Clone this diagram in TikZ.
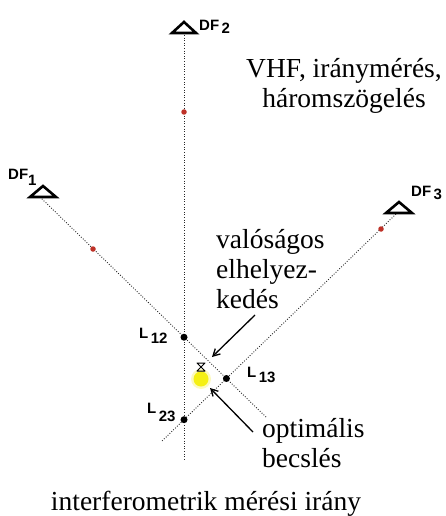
\documentclass[tikz,border=0pt]{standalone}
\usepackage{fontspec}
\setmainfont{Liberation Serif}
\setsansfont{Liberation Sans}
\usetikzlibrary{arrows.meta,positioning,calc}
\definecolor{dfink}{RGB}{40,40,40}
\definecolor{dfred}{RGB}{190,50,40}
\definecolor{dfyel}{RGB}{245,240,20}
\definecolor{dfglow}{RGB}{252,250,190}
\tikzset{
  bearing/.style={draw=dfink, line width=0.9pt, dash pattern=on 0.9pt off 1.7pt},
  station/.style={draw=black, fill=white, line width=2.6pt, line join=miter},
  fix/.style={circle, fill=black, inner sep=0pt, minimum size=7pt},
  mid/.style={circle, fill=dfred, inner sep=0pt, minimum size=5.5pt},
  dflab/.style={font=\fontsize{15}{15}\selectfont\sffamily\bfseries, inner sep=0pt, anchor=base west},
  note/.style={font=\fontsize{27.5}{30}\selectfont, inner sep=0pt},
  arr/.style={-{Straight Barb[length=2.4mm,width=2.6mm]}, draw=black, line width=1.3pt},
  every picture/.append style={line join=round}
}

\begin{document}
\begin{tikzpicture}[x=1pt, y=-1pt]
  \useasboundingbox (0,0) rectangle (446,516);
  % bearing lines
  \coordinate (df1) at (40,197);
  \coordinate (df2) at (184,35);
  \coordinate (df3) at (396,214);
  \coordinate (end1) at (267,418);
  \coordinate (end2) at (184,460);
  \coordinate (end3) at (162,441);
  \draw[bearing] (df1) -- (end1);
  \draw[bearing] (df2) -- (end2);
  \draw[bearing] (df3) -- (end3);
  % stations
  \draw[station] (30,197) -- (43,186) -- (56,197) -- cycle;
  \draw[station] (172,33) -- (184,22) -- (196,33) -- cycle;
  \draw[station] (386,213) -- (399,202) -- (412,213) -- cycle;
  \node[dflab] (df1lab) at (8,179) {DF\raisebox{-6pt}{1}};
  \node[dflab] (df2lab) at (199,31) {DF\,\raisebox{-3pt}{2}};
  \node[dflab] (df3lab) at (411,196) {DF\,\raisebox{-3pt}{3}};
  % midpoints
  \node[mid] (m1) at (93,249) {};
  \node[mid] (m2) at (184,112) {};
  \node[mid] (m3) at (381,229) {};
  % crossings
  \node[fix] (l12) at (intersection of df1--end1 and df2--end2) {};
  \node[fix] (l13) at (intersection of df1--end1 and df3--end3) {};
  \node[fix] (l23) at (intersection of df2--end2 and df3--end3) {};
  \node[dflab] (l12lab) at (139,338) {L\,\raisebox{-5pt}{12}};
  \node[dflab] (l13lab) at (247,377) {L\,\raisebox{-5pt}{13}};
  \node[dflab] (l23lab) at (147,413) {L\,\raisebox{-8pt}{23}};
  % real position and estimate
  \fill[dfglow] (201,379) circle (10);
  \fill[dfyel] (201,379) circle (7.5);
  \draw[line width=1pt] (197,363) -- (205,363) -- (197,371) -- (205,371) -- cycle;
  % texts
  \node[note, align=center, anchor=base] (vhf) at (344,108) {VHF, iránymérés,\\háromszögelés};
  \node[note, align=left, anchor=base west] (real) at (216,308) {valóságos\\elhelyez-\\kedés};
  \node[note, align=left, anchor=base west] (est) at (262,467) {optimális\\becslés};
  \node[note, anchor=base] (intf) at (206,510) {interferometrik mérési irány};
  \coordinate (realfrom) at (255,315);
  \coordinate (realto) at (212,357);
  \coordinate (estfrom) at (253,432);
  \coordinate (estto) at (210,388);
  \draw[arr] (realfrom) -- (realto);
  \draw[arr] (estfrom) -- (estto);
\end{tikzpicture}
\end{document}
